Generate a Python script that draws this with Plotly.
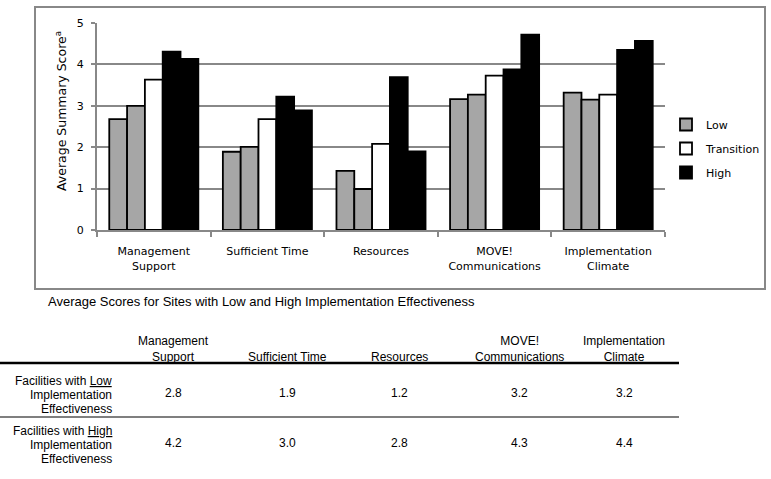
import plotly.graph_objects as go

# ---------------- data ----------------
categories = ["Management Support", "Sufficient Time", "Resources",
              "MOVE! Communications", "Implementation Climate"]
tick_labels = ["Management<br>Support", "Sufficient Time", "Resources",
               "MOVE!<br>Communications", "Implementation<br>Climate"]

low_site_1 = [2.68, 1.89, 1.43, 3.16, 3.32]
low_site_2 = [3.00, 2.01, 0.99, 3.27, 3.15]
transition_site = [3.63, 2.68, 2.08, 3.73, 3.27]
high_site_1 = [4.31, 3.22, 3.69, 3.88, 4.35]
high_site_2 = [4.13, 2.89, 1.90, 4.72, 4.57]

y_ticks = [0, 1, 2, 3, 4, 5]

table_title = "Average Scores for Sites with Low and High Implementation Effectiveness"
table_headers = ["Management<br>Support", "Sufficient Time", "Resources",
                 "MOVE!<br>Communications", "Implementation<br>Climate"]
table_row_labels = [["Facilities with <u>Low</u>", "Implementation", "Effectiveness"],
                    ["Facilities with <u>High</u>", "Implementation", "Effectiveness"]]
table_low = ["2.8", "1.9", "1.2", "3.2", "3.2"]
table_high = ["4.2", "3.0", "2.8", "4.3", "4.4"]

# ---------------- figure ----------------
W, H = 771, 479
GRAY = "#A6A6A6"
AXIS_GRAY = "#888888"
CHART_FONT = "DejaVu Sans, Verdana, sans-serif"
TABLE_FONT = "Liberation Sans, Arial, sans-serif"


def px_x(x):
    return x / W


def px_y(y):
    return 1 - y / H


series = [
    ("Low", low_site_1, GRAY, "low", True),
    ("Low", low_site_2, GRAY, "low", False),
    ("Transition", transition_site, "white", "trans", True),
    ("High", high_site_1, "black", "high", True),
    ("High", high_site_2, "black", "high", False),
]

fig = go.Figure()
for name, vals, color, grp, show in series:
    fig.add_trace(go.Bar(
        x=categories, y=vals, name=name, legendgroup=grp, showlegend=show,
        marker=dict(color=color, line=dict(color="black", width=1.8)),
    ))

fig.update_layout(
    width=W, height=H,
    margin=dict(l=0, r=0, t=0, b=0),
    paper_bgcolor="white", plot_bgcolor="white",
    barmode="group", bargap=0.216, bargroupgap=0,
    font=dict(family=CHART_FONT, size=11, color="black"),
    legend=dict(x=px_x(666), xanchor="left", y=px_y(110), yanchor="top",
                traceorder="grouped", tracegroupgap=5,
                bgcolor="rgba(0,0,0,0)", font=dict(size=11, family=CHART_FONT)),
    xaxis=dict(domain=[px_x(97), px_x(665)], tickmode="array",
               tickvals=categories, ticktext=tick_labels,
               showline=True, linecolor=AXIS_GRAY, linewidth=2,
               ticks="outside", tickson="boundaries", ticklen=5,
               tickcolor=AXIS_GRAY, tickwidth=2, ticklabelstandoff=10,
               showgrid=False, automargin=False),
    yaxis=dict(domain=[px_y(230), px_y(23)], range=[0, 5], tickvals=y_ticks,
               showline=True, linecolor=AXIS_GRAY, linewidth=2,
               ticks="outside", ticklen=4, tickcolor=AXIS_GRAY, tickwidth=2,
               ticklabelstandoff=5,
               showgrid=True, gridcolor=AXIS_GRAY, gridwidth=2,
               zeroline=False, automargin=False),
)

shapes = [
    # chart frame
    dict(type="rect", xref="paper", yref="paper",
         x0=px_x(35), x1=px_x(765), y0=px_y(289), y1=px_y(7),
         line=dict(color=AXIS_GRAY, width=2), layer="below"),
    # table rules
    dict(type="line", xref="paper", yref="paper",
         x0=0, x1=px_x(679), y0=px_y(363), y1=px_y(363),
         line=dict(color="black", width=2.5)),
    dict(type="line", xref="paper", yref="paper",
         x0=0, x1=px_x(679), y0=px_y(417), y1=px_y(417),
         line=dict(color="black", width=1.2)),
]

annotations = [
    dict(text="Average Summary Score<sup>a</sup>", xref="paper", yref="paper",
         x=px_x(61), y=px_y(111), textangle=-90, showarrow=False,
         xanchor="center", yanchor="middle",
         font=dict(family=CHART_FONT, size=12.5, color="black")),
    dict(text=table_title, xref="paper", yref="paper", x=px_x(46), y=px_y(301),
         xanchor="left", yanchor="middle", showarrow=False,
         font=dict(family=TABLE_FONT, size=13, color="black")),
]

col_centers = [173, 287, 399, 519, 624]
for cx, head, lo, hi in zip(col_centers, table_headers, table_low, table_high):
    annotations.append(dict(text=head, xref="paper", yref="paper",
                            x=px_x(cx), y=px_y(366), xanchor="center", yanchor="bottom",
                            showarrow=False, align="center",
                            font=dict(family=TABLE_FONT, size=12, color="black")))
    annotations.append(dict(text=lo, xref="paper", yref="paper",
                            x=px_x(cx), y=px_y(393), xanchor="center", yanchor="middle",
                            showarrow=False,
                            font=dict(family=TABLE_FONT, size=12, color="black")))
    annotations.append(dict(text=hi, xref="paper", yref="paper",
                            x=px_x(cx), y=px_y(443), xanchor="center", yanchor="middle",
                            showarrow=False,
                            font=dict(family=TABLE_FONT, size=12, color="black")))

row_line_y = [[381, 395, 409], [431, 445, 459]]
for lines, ys in zip(table_row_labels, row_line_y):
    for txt, yy in zip(lines, ys):
        annotations.append(dict(text=txt, xref="paper", yref="paper",
                                x=px_x(114), y=px_y(yy), xanchor="right", yanchor="middle",
                                showarrow=False, align="right",
                                font=dict(family=TABLE_FONT, size=12, color="black")))

fig.update_layout(shapes=shapes, annotations=annotations)
fig.write_html("out.html", config={"responsive": False, "displayModeBar": False},
               post_script="document.body.style.margin='0';document.body.style.overflow='hidden';")
